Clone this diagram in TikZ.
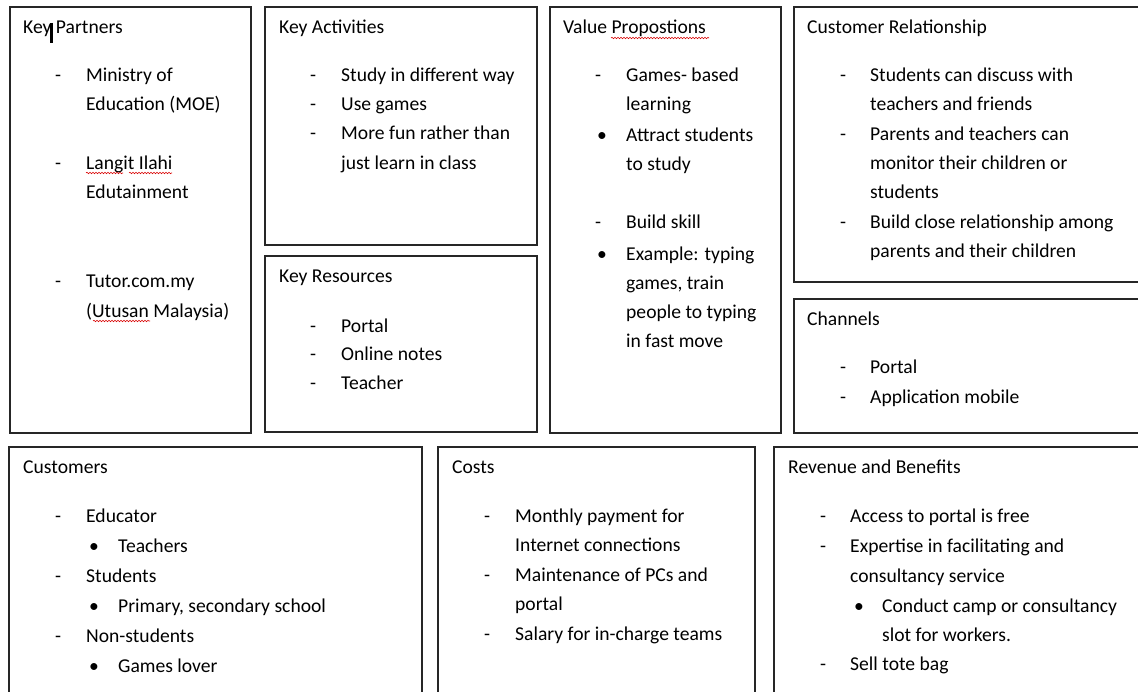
\documentclass[tikz,border=0pt]{standalone}
\usepackage{fontspec}
\setmainfont{Carlito}
\usetikzlibrary{decorations.pathmorphing}
\tikzset{
  panel/.style={draw=black!85, line width=1.3pt},
  txt/.style={anchor=base west, inner sep=0pt, font=\fontsize{19.6}{29}\selectfont, text=black},
  spell/.style={draw=red!85!black, line width=0.6pt, decorate, decoration={snake, amplitude=0.7pt, segment length=3pt}},
  cursor/.style={draw=black, line width=2.5pt}
}
\newcommand\Ln[4]{\node[txt] (#1) at (#2,#3) {#4};}
\newcommand\Ds[3]{\node[txt] (#1) at (#2,#3) {-};}
\newcommand\Bl[3]{\node[txt] (#1) at (#2,#3) {•};}
\begin{document}
\begin{tikzpicture}[x=1pt,y=-1pt]
\useasboundingbox (0,0) rectangle (1138,692);
% panels
\draw[panel] (10,7) rectangle (251,433);
\draw[panel] (265,7) rectangle (537,245);
\draw[panel] (265,256) rectangle (537,432);
\draw[panel] (550,7) rectangle (781,433);
\draw[panel] (794,7) rectangle (1142,282);
\draw[panel] (794,299) rectangle (1142,433);
\draw[panel] (9,447) rectangle (422,696);
\draw[panel] (438,447) rectangle (755,696);
\draw[panel] (774,447) rectangle (1142,696);
% Key Partners
\Ln{kpT}{23}{34}{Key Partners}
\draw[cursor] (51.5,23) -- (51.5,43);
\Ds{kpd1}{55}{82}\Ln{kp1}{86}{82}{Ministry of}
\Ln{kp1b}{86}{111}{Education (MOE)}
\Ds{kpd2}{55}{170}\Ln{kp2}{86}{170}{Langit Ilahi}
\Ln{kp2b}{86}{199}{Edutainment}
\Ds{kpd3}{55}{288}\Ln{kp3}{86}{288}{Tutor.com.my}
\Ln{kp3b}{86}{318}{(Utusan Malaysia)}
\draw[spell] (86,173) -- (123,173);
\draw[spell] (129,173) -- (172,173);
\draw[spell] (93,321) -- (150,321);
% Key Activities
\Ln{kaT}{279}{34}{Key Activities}
\Ds{kad1}{310}{82}\Ln{ka1}{341}{82}{Study in different way}
\Ds{kad2}{310}{111}\Ln{ka2}{341}{111}{Use games}
\Ds{kad3}{310}{140}\Ln{ka3}{341}{140}{More fun rather than}
\Ln{ka3b}{341}{170}{just learn in class}
% Key Resources
\Ln{krT}{279}{283}{Key Resources}
\Ds{krd1}{310}{333}\Ln{kr1}{341}{333}{Portal}
\Ds{krd2}{310}{361}\Ln{kr2}{341}{361}{Online notes}
\Ds{krd3}{310}{390}\Ln{kr3}{341}{390}{Teacher}
% Value Propositions
\Ln{vpT}{563}{34}{Value Propostions}
\draw[spell] (611,38) -- (709,38);
\Ds{vpd1}{595}{82}\Ln{vp1}{626}{82}{Games- based}
\Ln{vp1b}{626}{111}{learning}
\Bl{vpb1}{597}{142}\Ln{vp2}{626}{142}{Attract students}
\Ln{vp2b}{626}{171}{to study}
\Ds{vpd2}{595}{229}\Ln{vp3}{626}{229}{Build skill}
\Bl{vpb2}{597}{261}\Ln{vp4}{626}{261}{Example: typing}
\Ln{vp4b}{626}{290}{games, train}
\Ln{vp4c}{626}{319}{people to typing}
\Ln{vp4d}{626}{348}{in fast move}
% Customer Relationship
\Ln{crT}{807}{34}{Customer Relationship}
\Ds{crd1}{840}{82}\Ln{cr1}{870}{82}{Students can discuss with}
\Ln{cr1b}{870}{111}{teachers and friends}
\Ds{crd2}{840}{141}\Ln{cr2}{870}{141}{Parents and teachers can}
\Ln{cr2b}{870}{170}{monitor their children or}
\Ln{cr2c}{870}{199}{students}
\Ds{crd3}{840}{229}\Ln{cr3}{870}{229}{Build close relationship among}
\Ln{cr3b}{870}{258}{parents and their children}
% Channels
\Ln{chT}{807}{326}{Channels}
\Ds{chd1}{840}{374}\Ln{ch1}{870}{374}{Portal}
\Ds{chd2}{840}{403}\Ln{ch2}{870}{403}{Application mobile}
% Customers
\Ln{cuT}{23}{473}{Customers}
\Ds{cud1}{55}{522}\Ln{cu1}{86}{522}{Educator}
\Bl{cub1}{89}{552}\Ln{cu1a}{118}{552}{Teachers}
\Ds{cud2}{55}{582}\Ln{cu2}{86}{582}{Students}
\Bl{cub2}{89}{612}\Ln{cu2a}{118}{612}{Primary, secondary school}
\Ds{cud3}{55}{642}\Ln{cu3}{86}{642}{Non-students}
\Bl{cub3}{89}{672}\Ln{cu3a}{118}{672}{Games lover}
% Costs
\Ln{coT}{452}{473}{Costs}
\Ds{cod1}{484}{522}\Ln{co1}{515}{522}{Monthly payment for}
\Ln{co1b}{515}{551}{Internet connections}
\Ds{cod2}{484}{581}\Ln{co2}{515}{581}{Maintenance of PCs and}
\Ln{co2b}{515}{610}{portal}
\Ds{cod3}{484}{640}\Ln{co3}{515}{640}{Salary for in-charge teams}
% Revenue and Benefits
\Ln{rvT}{788}{473}{Revenue and Benefits}
\Ds{rvd1}{820}{522}\Ln{rv1}{850}{522}{Access to portal is free}
\Ds{rvd2}{820}{552}\Ln{rv2}{850}{552}{Expertise in facilitating and}
\Ln{rv2b}{850}{582}{consultancy service}
\Bl{rvb1}{854}{612}\Ln{rv2c}{882}{612}{Conduct camp or consultancy}
\Ln{rv2d}{882}{641}{slot for workers.}
\Ds{rvd3}{820}{670}\Ln{rv3}{850}{670}{Sell tote bag}
\end{tikzpicture}
\end{document}
